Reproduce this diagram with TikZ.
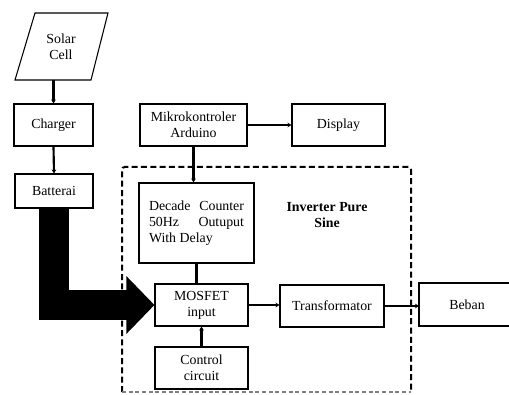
\documentclass[tikz,border=0pt]{standalone}
\usepackage{fontspec}
\setmainfont{Liberation Serif}
\usetikzlibrary{arrows.meta}
\begin{document}
\begin{tikzpicture}[x=0.75pt,y=-0.75pt,
  every node/.style={font=\fontsize{10.4}{12}\selectfont},
  box/.style={draw, line width=0.8pt, inner sep=0pt, align=center, minimum height=31.5pt},
  conn/.style={line width=1.6pt},
  arr/.style={conn, -{Stealth[length=3pt,width=3.5pt]}},
  fat/.style={line width=22.5pt, -{Triangle[length=21pt,width=42pt]}}]
\useasboundingbox (0,0) rectangle (509,395);
\clip (0,0) rectangle (509,395);
% Solar cell parallelogram
\draw[line width=0.8pt] (35,13) -- (108,13) -- (91,80) -- (15,80) -- cycle;
\node[align=center] (solar) at (61,47) {Solar\\Cell};
\coordinate (solarS) at (53.5,80);
\node[box, minimum width=59.25pt] (charger) at (53.5,125) {Charger};
\node[box, minimum width=58.5pt, minimum height=25.5pt] (batt) at (54,191) {Batterai};
\node[box, minimum width=80.25pt] (mikro) at (193.5,125) {Mikrokontroler\\Arduino};
\node[box, minimum width=69.75pt] (display) at (338.5,125) {Display};
% dashed inverter region
\draw[line width=1.5pt, dash pattern=on 4.5pt off 2.5pt, rounded corners=2pt]
  (122,392) -- (122,167) -- (411,167) -- (411,392);
\draw[line width=0.9pt, densely dashed, gray] (122,392) -- (411,392);
\node[box, minimum width=86.25pt, minimum height=60pt] (decade) at (196.5,223)
  {\parbox{71.25pt}{Decade\hfill Counter\\50Hz\hfill Outuput\\With Delay}};
\node[align=center, font=\fontsize{10.4}{12}\selectfont\bfseries] (inv) at (327,215) {Inverter Pure\\Sine};
\node[box, minimum width=69.75pt] (mosfet) at (201.5,305) {MOSFET\\input};
\node[box, minimum width=78pt] (trafo) at (332,306) {Transformator};
\node[box, minimum width=69.75pt] (control) at (201.5,368) {Control\\circuit};
% Beban box runs off the right edge
\draw[line width=0.8pt] (530,283) -- (419,283) -- (419,326) -- (530,326);
\node (beban) at (467,304.5) {Beban};
\coordinate (bebanW) at (419,306);
% connectors
\draw[arr] (solarS) -- (charger.north);
\draw[arr] (charger.south) -- (batt.north);
\draw[arr] (mikro.east) -- (display.west);
\draw[arr] (mikro.south) -- (mikro.south |- decade.north);
\draw[conn] (decade.south) -- (decade.south |- mosfet.north);
\draw[arr] (control.north) -- (mosfet.south);
\draw[arr] (mosfet.east) -- (mosfet.east -| trafo.west);
\draw[arr] (trafo.east) -- (bebanW);
\draw[fat] (batt.south) |- (mosfet.west);
\end{tikzpicture}
\end{document}
